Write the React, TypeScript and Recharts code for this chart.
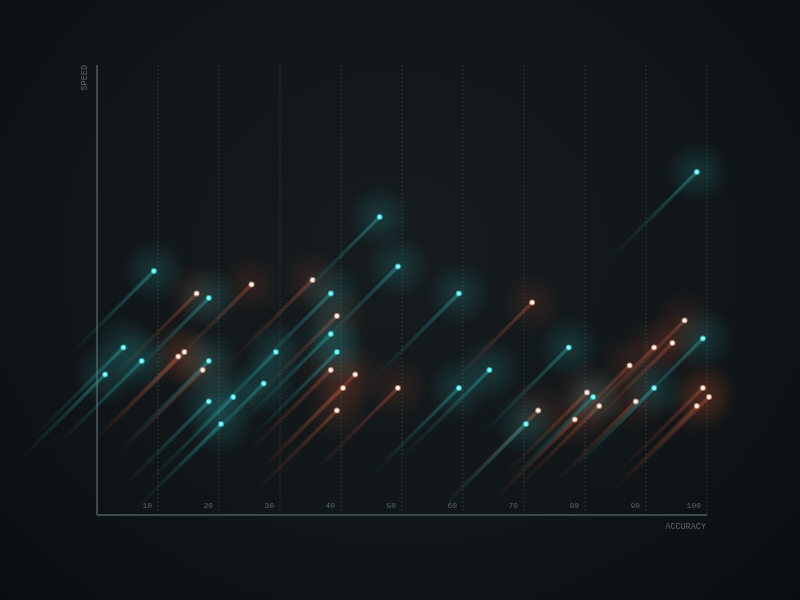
import React from "react";
import { ScatterChart, Scatter, XAxis, YAxis, CartesianGrid, Label } from "recharts";

// Accuracy (x) / speed (y) readings, split by the two series.
const cyanAccuracy = [1, 4, 7, 9, 18, 18, 18, 20, 22, 27, 29, 38, 38, 39, 46, 49, 59, 59, 64, 70, 77, 81, 91, 98, 99];
const cyanSpeed = [31, 37, 34, 54, 48, 34, 25, 20, 26, 29, 36, 49, 40, 36, 66, 55, 49, 28, 32, 20, 37, 26, 28, 76, 39];
const emberAccuracy = [13, 14, 16, 17, 25, 35, 39, 38, 40, 42, 39, 49, 71, 72, 78, 80, 82, 87, 88, 91, 94, 96, 98, 99, 100];
const emberSpeed = [35, 36, 49, 32, 51, 52, 44, 32, 28, 31, 23, 28, 47, 23, 21, 27, 24, 33, 25, 37, 38, 43, 24, 28, 26];
const accuracyTicks = [10, 20, 30, 40, 50, 60, 70, 80, 90, 100];

const cyanData = cyanAccuracy.map((x, i) => ({ x, y: cyanSpeed[i] }));
const emberData = emberAccuracy.map((x, i) => ({ x, y: emberSpeed[i] }));

const MONO = "'Liberation Mono', 'DejaVu Sans Mono', monospace";
const TAIL = 88; // comet tail length, px per axis
const NUDGE_X = 2; // dots sit slightly right/up of the exact value
const NUDGE_Y = -1;

const tail = (kind: "c" | "e") => (props: any) => {
  const { cx, cy } = props;
  if (cx == null || cy == null) return <g />;
  const x = cx + NUDGE_X;
  const y = cy + NUDGE_Y;
  return (
    <g>
      <circle cx={x} cy={y} r={32} fill={`url(#glow-${kind})`} />
      <line
        x1={x}
        y1={y}
        x2={x - TAIL}
        y2={y + TAIL}
        stroke={`url(#tail-${kind})`}
        strokeWidth={3.5}
        strokeLinecap="round"
      />
    </g>
  );
};

const dot = (kind: "c" | "e") => (props: any) => {
  const { cx, cy } = props;
  if (cx == null || cy == null) return <g />;
  const x = cx + NUDGE_X;
  const y = cy + NUDGE_Y;
  return (
    <g>
      <circle cx={x} cy={y} r={3} fill={kind === "c" ? "#2fc8cc" : "#d99a82"} opacity={0.8} />
      <circle cx={x} cy={y} r={2} fill={kind === "c" ? "#8ffcff" : "#fff6ef"} />
    </g>
  );
};

const AccuracyTick = (props: any) => {
  const { x, y, payload } = props;
  return (
    <text x={x - 6} y={y - 7} textAnchor="end" fontSize={8} fontFamily={MONO} fill="#56676b">
      {payload.value}
    </text>
  );
};

export default function App() {
  return (
    <div
      style={{
        position: "fixed",
        left: 0,
        top: 0,
        width: 800,
        height: 600,
        background: "radial-gradient(ellipse at 50% 42%, #161c1e 0%, #111618 55%, #0b0e10 100%)",
      }}
    >
      <ScatterChart width={800} height={600} margin={{ top: 65, right: 93, bottom: 84, left: 96 }}>
        <defs>
          <linearGradient id="tail-c" x1="1" y1="0" x2="0" y2="1">
            <stop offset="0%" stopColor="#2a9a9c" stopOpacity={0.5} />
            <stop offset="100%" stopColor="#1d6f72" stopOpacity={0} />
          </linearGradient>
          <linearGradient id="tail-e" x1="1" y1="0" x2="0" y2="1">
            <stop offset="0%" stopColor="#b0513a" stopOpacity={0.45} />
            <stop offset="100%" stopColor="#7a3524" stopOpacity={0} />
          </linearGradient>
          <radialGradient id="glow-c">
            <stop offset="0%" stopColor="#2aa6a8" stopOpacity={0.22} />
            <stop offset="100%" stopColor="#2aa6a8" stopOpacity={0} />
          </radialGradient>
          <radialGradient id="glow-e">
            <stop offset="0%" stopColor="#a8482e" stopOpacity={0.18} />
            <stop offset="100%" stopColor="#a8482e" stopOpacity={0} />
          </radialGradient>
        </defs>
        <CartesianGrid horizontal={false} stroke="#2b3437" strokeDasharray="2 2" />
        <XAxis
          dataKey="x"
          type="number"
          domain={[0, 100]}
          ticks={accuracyTicks}
          height={1}
          tickSize={0}
          tickMargin={0}
          tickLine={false}
          axisLine={{ stroke: "#3b4a4d", strokeWidth: 2 }}
          tick={<AccuracyTick />}
        >
          <Label
            content={(p: any) => {
              const vb = p.viewBox;
              return (
                <text
                  x={vb.x + vb.width - 1}
                  y={vb.y + 14}
                  textAnchor="end"
                  fontSize={8.5}
                  fontFamily={MONO}
                  fill="#5a6a6e"
                >
                  ACCURACY
                </text>
              );
            }}
          />
        </XAxis>
        <YAxis
          dataKey="y"
          type="number"
          domain={[0, 100]}
          width={1}
          tick={false}
          tickLine={false}
          axisLine={{ stroke: "#3b4a4d", strokeWidth: 2 }}
        >
          <Label
            content={(p: any) => {
              const vb = p.viewBox;
              const x = vb.x - 9;
              const y = 65;
              return (
                <text
                  x={x}
                  y={y}
                  transform={`rotate(-90 ${x} ${y})`}
                  textAnchor="end"
                  fontSize={8.5}
                  fontFamily={MONO}
                  fill="#5a6a6e"
                >
                  SPEED
                </text>
              );
            }}
          />
        </YAxis>
        <Scatter data={emberData} shape={tail("e")} isAnimationActive={false} />
        <Scatter data={cyanData} shape={tail("c")} isAnimationActive={false} />
        <Scatter data={emberData} shape={dot("e")} isAnimationActive={false} />
        <Scatter data={cyanData} shape={dot("c")} isAnimationActive={false} />
      </ScatterChart>
    </div>
  );
}
